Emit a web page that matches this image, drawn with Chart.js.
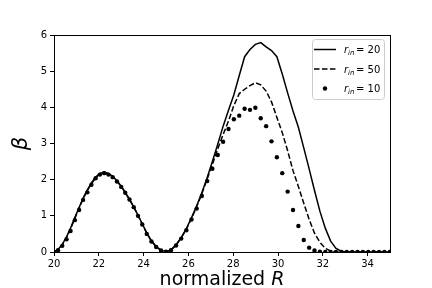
<!DOCTYPE html>
<html>
<head>
<meta charset="utf-8">
<script src="https://cdn.jsdelivr.net/npm/chart.js@4/dist/chart.umd.min.js"></script>
<style>
  html, body { margin: 0; padding: 0; background: #ffffff; }
  canvas { display: block; }
</style>
</head>
<body>
<canvas id="chart" width="432" height="288"></canvas>
<script>
// normalized R sample points (shared by all three runs)
const rGrid = [20.00, 20.18, 20.37, 20.56, 20.74, 20.93, 21.12, 21.30, 21.49, 21.67,
               21.86, 22.05, 22.24, 22.43, 22.62, 22.81, 23.00, 23.18, 23.37, 23.56,
               23.75, 23.94, 24.14, 24.35, 24.56, 24.78, 25.00, 25.22, 25.45, 25.68,
               25.91, 26.14, 26.37, 26.60, 26.84, 27.07, 27.31, 27.55, 27.79, 28.03,
               28.27, 28.51, 28.75, 28.99, 29.23, 29.47, 29.71, 29.95, 30.19, 30.43,
               30.67, 30.91, 31.15, 31.39, 31.63, 31.87, 32.11, 32.35, 32.59, 32.83,
               33.07, 33.31, 33.55, 33.79, 34.03, 34.27, 34.51, 34.75, 34.99];

// beta for r_in = 20 (solid)
const betaR20 = [0.00, 0.07, 0.21, 0.42, 0.66, 0.95, 1.23, 1.49, 1.72, 1.91,
                 2.07, 2.17, 2.21, 2.17, 2.09, 1.97, 1.82, 1.65, 1.46, 1.25,
                 1.02, 0.78, 0.53, 0.31, 0.15, 0.05, 0.01, 0.06, 0.20, 0.40,
                 0.65, 0.95, 1.28, 1.64, 2.06, 2.50, 2.98, 3.48, 3.92, 4.35,
                 4.88, 5.40, 5.60, 5.74, 5.79, 5.67, 5.57, 5.40, 4.92, 4.40,
                 3.90, 3.45, 2.88, 2.30, 1.70, 1.13, 0.66, 0.30, 0.10, 0.02,
                 0, 0, 0, 0, 0, 0, 0, 0, 0];

// beta for r_in = 50 (dashed)
const betaR50 = [0.00, 0.06, 0.20, 0.40, 0.64, 0.93, 1.21, 1.47, 1.70, 1.89,
                 2.05, 2.16, 2.20, 2.16, 2.08, 1.96, 1.81, 1.64, 1.45, 1.24,
                 1.01, 0.77, 0.52, 0.30, 0.14, 0.04, 0.01, 0.05, 0.19, 0.39,
                 0.63, 0.93, 1.25, 1.61, 2.02, 2.42, 2.85, 3.25, 3.62, 4.05,
                 4.38, 4.50, 4.60, 4.68, 4.62, 4.45, 4.15, 3.72, 3.30, 2.80,
                 2.25, 1.81, 1.35, 0.90, 0.52, 0.27, 0.10, 0.03, 0.00, 0.00,
                 0, 0, 0, 0, 0, 0, 0, 0, 0];

// beta for r_in = 10 (dots)
const betaR10 = [0.00, 0.05, 0.17, 0.35, 0.58, 0.88, 1.16, 1.44, 1.65, 1.86,
                 2.04, 2.14, 2.18, 2.14, 2.07, 1.95, 1.80, 1.64, 1.45, 1.24,
                 1.00, 0.76, 0.50, 0.29, 0.14, 0.04, 0.01, 0.05, 0.18, 0.37,
                 0.60, 0.90, 1.20, 1.55, 1.96, 2.30, 2.68, 3.05, 3.40, 3.67,
                 3.77, 3.96, 3.93, 3.99, 3.70, 3.48, 3.06, 2.62, 2.18, 1.67,
                 1.16, 0.72, 0.33, 0.12, 0.04, 0.01, 0, 0, 0, 0,
                 0, 0, 0, 0, 0, 0, 0, 0, 0];

const rInLabels = ['20', '50', '10'];
const xTicks = [20, 22, 24, 26, 28, 30, 32, 34];
const yTicks = [0, 1, 2, 3, 4, 5, 6];

const FONT = "'DejaVu Sans', sans-serif";

function pts(ys) {
    return rGrid.map((x, i) => ({ x: x, y: ys[i] }));
}

// frame, axis titles and the mathtext style legend
const decorPlugin = {
    id: 'decor',
    afterDraw(chart) {
        const ctx = chart.ctx;
        const a = chart.chartArea;
        ctx.save();

        ctx.strokeStyle = '#000000';
        ctx.lineWidth = 1;
        ctx.strokeRect(Math.round(a.left) + 0.5, Math.round(a.top) + 0.5,
                       Math.round(a.right - a.left), Math.round(a.bottom - a.top));

        // x title: normalized R
        ctx.fillStyle = '#000000';
        ctx.textBaseline = 'alphabetic';
        const p1 = 'normalized ';
        ctx.font = '19px ' + FONT;
        const w1 = ctx.measureText(p1).width;
        ctx.font = 'italic 19px ' + FONT;
        const w2 = ctx.measureText('R').width;
        const cx = (a.left + a.right) / 2;
        const x0 = cx - (w1 + w2) / 2;
        ctx.textAlign = 'left';
        ctx.font = '19px ' + FONT;
        ctx.fillText(p1, x0, 285);
        ctx.font = 'italic 19px ' + FONT;
        ctx.fillText('R', x0 + w1, 285);

        // y title: beta
        ctx.save();
        ctx.translate(27, (a.top + a.bottom) / 2);
        ctx.rotate(-Math.PI / 2);
        ctx.textAlign = 'center';
        ctx.font = 'italic 21px ' + FONT;
        ctx.fillText('\u03b2', 0, 0);
        ctx.restore();

        // legend
        const bx = 312, by = 39, bw = 72, bh = 60;
        ctx.beginPath();
        ctx.roundRect(bx + 0.5, by + 0.5, bw, bh, 3);
        ctx.fillStyle = 'rgba(255,255,255,0.8)';
        ctx.fill();
        ctx.strokeStyle = '#cccccc';
        ctx.lineWidth = 1;
        ctx.stroke();

        const rowY = [49.5, 69, 88.5];
        rowY.forEach((yy, i) => {
            ctx.strokeStyle = '#000000';
            ctx.fillStyle = '#000000';
            ctx.lineWidth = 1.5;
            if (i === 0) {
                ctx.setLineDash([]);
                ctx.beginPath(); ctx.moveTo(314, yy); ctx.lineTo(336, yy); ctx.stroke();
            } else if (i === 1) {
                ctx.setLineDash([5.55, 2.4]);
                ctx.beginPath(); ctx.moveTo(314, yy); ctx.lineTo(336, yy); ctx.stroke();
                ctx.setLineDash([]);
            } else {
                ctx.beginPath(); ctx.arc(325, yy, 2.2, 0, Math.PI * 2); ctx.fill();
            }
            let tx = 344;
            const base = yy + 3.5;
            ctx.textAlign = 'left';
            ctx.font = 'italic 10px ' + FONT;
            ctx.fillText('r', tx, base);
            tx += ctx.measureText('r').width;
            ctx.font = 'italic 7px ' + FONT;
            ctx.fillText('in', tx, base + 2);
            tx += ctx.measureText('in').width + 1.5;
            ctx.font = '10px ' + FONT;
            ctx.fillText('= ' + rInLabels[i], tx, base);
        });

        ctx.restore();
    }
};

const chart = new Chart(document.getElementById('chart'), {
    type: 'line',
    data: {
        datasets: [
            {
                data: pts(betaR20),
                borderColor: '#000000',
                borderWidth: 1.5,
                pointRadius: 0,
                tension: 0,
                fill: false
            },
            {
                data: pts(betaR50),
                borderColor: '#000000',
                borderWidth: 1.5,
                borderDash: [5.55, 2.4],
                pointRadius: 0,
                tension: 0,
                fill: false
            },
            {
                data: pts(betaR10),
                showLine: false,
                pointRadius: 2.2,
                pointBorderWidth: 0,
                pointBackgroundColor: '#000000',
                pointBorderColor: '#000000'
            }
        ]
    },
    options: {
        responsive: false,
        animation: false,
        devicePixelRatio: 1,
        layout: { padding: { left: 0, top: 35, right: 42, bottom: 0 } },
        plugins: {
            legend: { display: false },
            tooltip: { enabled: false }
        },
        scales: {
            x: {
                type: 'linear',
                min: 20,
                max: 35,
                afterBuildTicks: (axis) => { axis.ticks = xTicks.map(v => ({ value: v })); },
                afterFit: (axis) => { axis.height = 36; },
                grid: {
                    drawOnChartArea: false,
                    drawTicks: true,
                    tickLength: 4,
                    tickColor: '#000000',
                    tickWidth: 1
                },
                border: { display: false },
                ticks: {
                    color: '#000000',
                    padding: 2,
                    maxRotation: 0,
                    font: { family: FONT, size: 10 }
                }
            },
            y: {
                type: 'linear',
                min: 0,
                max: 6,
                afterBuildTicks: (axis) => { axis.ticks = yTicks.map(v => ({ value: v })); },
                afterFit: (axis) => { axis.width = 54; },
                grid: {
                    drawOnChartArea: false,
                    drawTicks: true,
                    tickLength: 4,
                    tickColor: '#000000',
                    tickWidth: 1
                },
                border: { display: false },
                ticks: {
                    color: '#000000',
                    padding: 3,
                    font: { family: FONT, size: 10 }
                }
            }
        }
    },
    plugins: [decorPlugin]
});
</script>
</body>
</html>
